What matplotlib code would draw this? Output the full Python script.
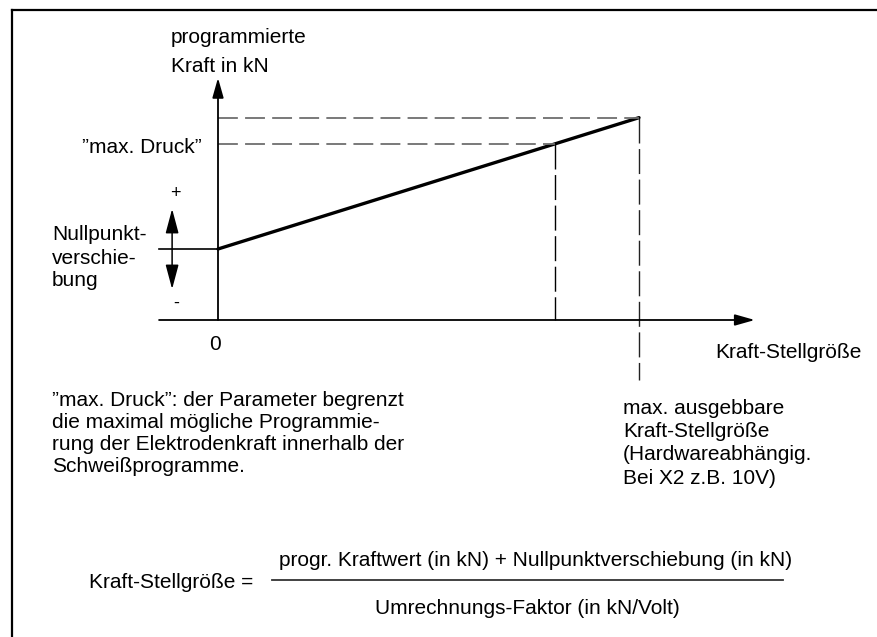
import matplotlib
matplotlib.use("Agg")
import matplotlib.pyplot as plt
from matplotlib.lines import Line2D

plt.rcParams['font.family'] = ['Liberation Sans', 'DejaVu Sans']

# Kennlinie: Kraft-Stellgroesse (V) -> programmierte Kraft (kN)
stellgroesse = [0.0, 8.0, 10.0]     # 0, "max. Druck", max. ausgebbar
kraft = [2.0, 4.96, 5.7]            # kN, kraft[0] = Nullpunktverschiebung

x_axis_range = [-1.4, 12.75]
y_axis_range = [0.0, 6.82]
offset_arrow = [0.87, 3.13]
x_max_tail = -1.69

W, H = 877, 637
ORIGIN = (218, 320)      # pixel position of (0, 0)
PX_X, PX_Y = 42.1, 35.5  # pixel per V / per kN

fig = plt.figure(figsize=(W / 100, H / 100), dpi=100)
ax = fig.add_axes([0, 0, 1, 1])
ax.set_xlim(-ORIGIN[0] / PX_X, (W - ORIGIN[0]) / PX_X)
ax.set_ylim(-(H - ORIGIN[1]) / PX_Y, ORIGIN[1] / PX_Y)
ax.axis('off')


def px(x, y):
    # pixel (from top left) -> figure fraction
    return x / W, 1 - y / H


def label(x, y, s, **kw):
    kw.setdefault('fontsize', 15)
    kw.setdefault('va', 'baseline')
    fig.text(*px(x, y), s, color='black', **kw)


# frame
fig.add_artist(Line2D([11.5 / W, 1], [1 - 9.5 / H] * 2, color='black', lw=1.6))
fig.add_artist(Line2D([11.5 / W] * 2, [0, 1 - 9.5 / H], color='black', lw=1.6))

arrow = dict(arrowstyle='-|>,head_length=0.6,head_width=0.17', lw=1.3,
             color='black', mutation_scale=20, shrinkA=0, shrinkB=0)
# axes
ax.annotate('', xy=(x_axis_range[1], 0), xytext=(x_axis_range[0], 0), arrowprops=arrow)
ax.annotate('', xy=(0, y_axis_range[1]), xytext=(0, y_axis_range[0]), arrowprops=arrow)

# Kennlinie
ax.plot(stellgroesse, kraft, color='black', lw=2.4, solid_capstyle='round')

# Hilfslinien
for i in (1, 2):
    ax.plot([0, stellgroesse[i]], [kraft[i], kraft[i]], color='#6e6e6e', lw=1.3,
            dashes=(11, 4))
ax.plot([stellgroesse[1]] * 2, [kraft[1], 0], color='black', lw=1.0, dashes=(18, 4))
ax.plot([stellgroesse[2]] * 2, [kraft[2], x_max_tail], color='#222222', lw=1.0,
        dashes=(18, 4))

# Nullpunktverschiebung
ax.plot([x_axis_range[0], 0], [kraft[0], kraft[0]], color='black', lw=1.2)
ax.annotate('', xy=(-1.09, offset_arrow[1]), xytext=(-1.09, offset_arrow[0]),
            arrowprops=dict(arrow, arrowstyle='<|-|>,head_length=0.75,head_width=0.2', lw=1.1))

# Beschriftung
label(171, 43, 'programmierte')
label(171, 72.5, 'Kraft in kN')
label(202, 152.5, '\u201dmax. Druck\u201d', ha='right')
label(170, 194, '+', va='center', fontsize=13)
label(173, 303, '-', va='center', fontsize=13)
for k, s in enumerate(['Nullpunkt-', 'verschie-', 'bung']):
    label(52, 240.5 + 23 * k, s)
label(215, 350, '0', ha='center')
label(715, 358, 'Kraft-Stellgr\u00f6\u00dfe')

for k, s in enumerate(['\u201dmax. Druck\u201d: der Parameter begrenzt',
                       'die maximal m\u00f6gliche Programmie-',
                       'rung der Elektrodenkraft innerhalb der',
                       'Schwei\u00dfprogramme.']):
    label(52, 406.5 + 22 * k, s)

for k, s in enumerate(['max. ausgebbare', 'Kraft-Stellgr\u00f6\u00dfe',
                       '(Hardwareabh\u00e4ngig.', 'Bei X2 z.B. 10V)']):
    label(623, 414 + 23.2 * k, s)

# Formel
label(89, 588, 'Kraft-Stellgr\u00f6\u00dfe =')
fig.add_artist(Line2D([272 / W, 783 / W], [1 - 580 / H] * 2, color='#333333', lw=1.3))
label(536, 566.5, 'progr. Kraftwert (in kN) + Nullpunktverschiebung (in kN)', ha='center')
label(527, 614, 'Umrechnungs-Faktor (in kN/Volt)', ha='center')

fig.savefig('out.png', dpi=100)
